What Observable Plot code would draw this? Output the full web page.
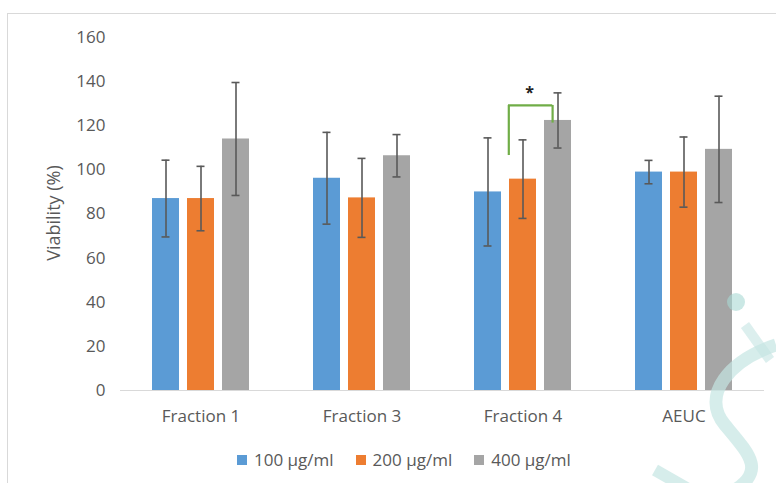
<!DOCTYPE html>
<html><head><meta charset="utf-8">
<script src="https://cdn.jsdelivr.net/npm/d3@7"></script>
<script src="https://cdn.jsdelivr.net/npm/@observablehq/plot@0.6"></script>
<style>
body{margin:0;background:#fff;}
#wrap{position:relative;width:776px;height:483px;overflow:hidden;background:#fff;font-family:"Open Sans",sans-serif;}
#frame{position:absolute;left:7px;top:13px;width:820px;height:520px;border-top:1px solid #d9d9d9;border-left:1px solid #d9d9d9;}
#chart{position:absolute;left:0;top:0;}
#ytitle{position:absolute;left:53px;top:213px;transform:translate(-50%,-50%) rotate(-90deg);font-size:18px;color:#595959;white-space:nowrap;}
#legend{position:absolute;left:237px;top:449px;display:flex;gap:22px;font-size:17px;color:#595959;line-height:22px;}
#legend .it{display:flex;align-items:center;gap:7px;}
#legend .sw{width:10px;height:10px;display:inline-block;}
#wm{position:absolute;left:0;top:0;pointer-events:none;}
</style></head>
<body><div id="wrap"><div id="frame"></div><div id="chart"></div><div id="ytitle"></div><div id="legend"></div>
<svg id="wm" width="776" height="483">
<circle cx="736" cy="302" r="9" fill="#a9d8d4" opacity="0.6"/>
<path d="M776 345 C 730 360, 700 395, 725 425 S 765 470, 735 490" stroke="#c4e5e2" stroke-width="13" fill="none" opacity="0.7"/>
<path d="M655 470 L 690 490" stroke="#c4e5e2" stroke-width="12" fill="none" opacity="0.7"/>
<path d="M745 325 L 770 360" stroke="#c4e5e2" stroke-width="10" fill="none" opacity="0.6"/>
</svg>
</div>
<script>
const categories = ["Fraction 1", "Fraction 3", "Fraction 4", "AEUC"];
const series = ["100 µg/ml", "200 µg/ml", "400 µg/ml"];
const colors = ["#5B9BD5", "#ED7D31", "#A5A5A5"];
const values100 = [87, 96.2, 90, 99];
const values200 = [87, 87.3, 95.8, 99];
const values400 = [114, 106.4, 122.4, 109.3];
const err100 = [17.4, 20.8, 24.5, 5.3];
const err200 = [14.6, 17.9, 17.8, 15.9];
const err400 = [25.6, 9.6, 12.5, 24.1];
const yTicks = [0, 20, 40, 60, 80, 100, 120, 140, 160];
const yTitle = "Viability (%)";
// significance bracket
const sig = [{category: "Fraction 4", from: "200 µg/ml", to: "400 µg/ml", top: 129.2, leftEnd: 106.5, rightEnd: 121.2, label: "*", labelY: 135}];

const values = [values100, values200, values400];
const errs = [err100, err200, err400];
const data = [];
categories.forEach((c, i) => series.forEach((s, j) => data.push({category: c, series: s, value: values[j][i], err: errs[j][i]})));

const chart = Plot.plot({
  width: 776, height: 430,
  marginTop: 37, marginBottom: 40, marginLeft: 118, marginRight: 11,
  style: {fontFamily: "Open Sans", fontSize: "17px", color: "#595959", background: "transparent"},
  fx: {domain: categories, padding: 0, label: null, tickSize: 0, tickPadding: 19},
  x: {domain: series, paddingInner: 0.22, paddingOuter: 0.857, axis: null},
  y: {domain: [0, 160], ticks: yTicks, tickSize: 0, tickPadding: 15, label: null},
  color: {domain: series, range: colors},
  marks: [
    Plot.barY(data, {fx: "category", x: "series", y: "value", fill: "series"}),
    Plot.ruleY([0], {stroke: "#d9d9d9", strokeWidth: 1.2}),
    Plot.ruleX(data, {fx: "category", x: "series", y1: d => d.value - d.err, y2: d => d.value + d.err, stroke: "#595959", strokeWidth: 1.6}),
    Plot.tickY(data, {fx: "category", x: "series", y: d => d.value + d.err, stroke: "#595959", strokeWidth: 1.6, insetLeft: 9.5, insetRight: 9.5}),
    Plot.tickY(data, {fx: "category", x: "series", y: d => d.value - d.err, stroke: "#595959", strokeWidth: 1.6, insetLeft: 9.5, insetRight: 9.5}),
    Plot.ruleX(sig, {fx: "category", x: "from", y1: "leftEnd", y2: "top", dx: -14.2, stroke: "#70AD47", strokeWidth: 2.2}),
    Plot.ruleX(sig, {fx: "category", x: "to", y1: "rightEnd", y2: "top", dx: -5.4, stroke: "#70AD47", strokeWidth: 2.2}),
    Plot.ruleY(sig, {fx: "category", y: "top", x1: "from", x2: "to", insetLeft: -1, insetRight: 18.8, stroke: "#70AD47", strokeWidth: 2.2}),
    Plot.text(sig, {fx: "category", x: "from", y: "labelY", text: "label", dx: 6.6, fontSize: 16, fill: "#222", fontWeight: "bold"})
  ]
});
document.getElementById("chart").append(chart);
document.getElementById("ytitle").textContent = yTitle;
const leg = document.getElementById("legend");
series.forEach((s, j) => {
  const it = document.createElement("span"); it.className = "it";
  const sw = document.createElement("span"); sw.className = "sw"; sw.style.background = colors[j];
  const t = document.createElement("span"); t.textContent = s;
  it.append(sw, t); leg.append(it);
});
</script></body></html>
